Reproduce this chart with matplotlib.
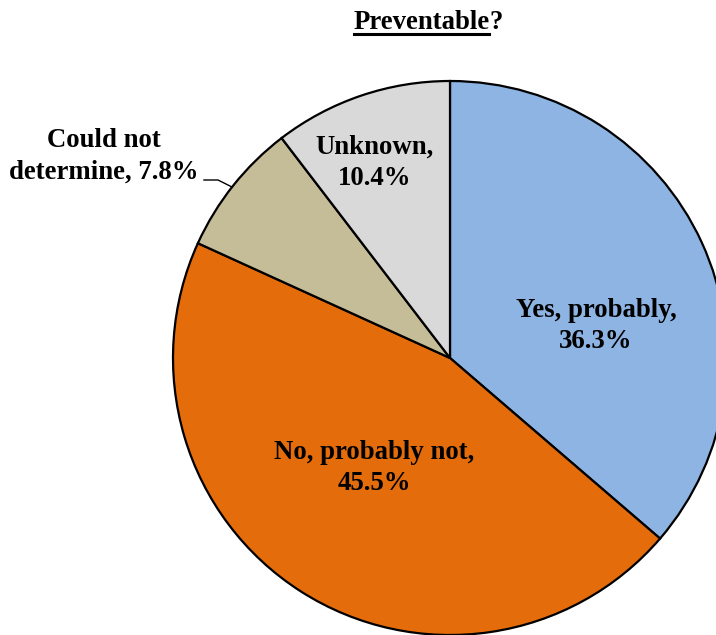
import matplotlib
matplotlib.use("Agg")
import matplotlib.pyplot as plt
from matplotlib.lines import Line2D

categories = ["Yes, probably", "No, probably not", "Could not determine", "Unknown"]
values = [36.3, 45.5, 7.8, 10.4]
colors = ["#8DB4E2", "#E46C0A", "#C4BD97", "#D9D9D9"]
title_main = "Preventable"
title_tail = "?"

W, H = 716, 635
fig = plt.figure(figsize=(W / 100, H / 100), dpi=100)
ax = fig.add_axes([0, 0, 1, 1])

cx, cy, R = 450, H - 358, 277
ax.pie(values, colors=colors, startangle=90, counterclock=False,
       center=(cx, cy), radius=R,
       wedgeprops=dict(edgecolor="black", linewidth=1.6))
ax.set_xlim(0, W)
ax.set_ylim(0, H)
ax.set_aspect("equal")
ax.axis("off")

font = dict(family="Liberation Serif", fontweight="bold", fontsize=19.3)
LS = 1.34

def lab(i):
    return f"{categories[i]},\n{values[i]:.1f}%"

ax.text(596, H - 326, lab(0), ha="center", va="center", linespacing=LS, **font)
ax.text(374, H - 468, lab(1), ha="center", va="center", linespacing=LS, **font)
ax.text(375, H - 163, lab(3), ha="center", va="center", linespacing=LS, **font)
ax.text(104, H - 156, f"Could not\ndetermine, {values[2]:.1f}%", ha="center",
        va="center", linespacing=LS, **font)
ax.add_line(Line2D([204, 218, 232], [H - 180, H - 180, H - 187],
                   color="black", linewidth=1.0))

# title with underlined main part
t = ax.text(354, H - 29, title_main, ha="left", va="baseline", **font)
fig.canvas.draw()
r = fig.canvas.get_renderer()
bb = t.get_window_extent(r)
inv = ax.transData.inverted()
(x0, y0), (x1, y1) = inv.transform([[bb.x0, bb.y0], [bb.x1, bb.y1]])
ax.text(x1 - 1, H - 29, title_tail, ha="left", va="baseline", **font)
ax.add_line(Line2D([x0, x1 - 1], [H - 33.5, H - 33.5], color="black", linewidth=2.2))

fig.savefig("out.png", dpi=100)
